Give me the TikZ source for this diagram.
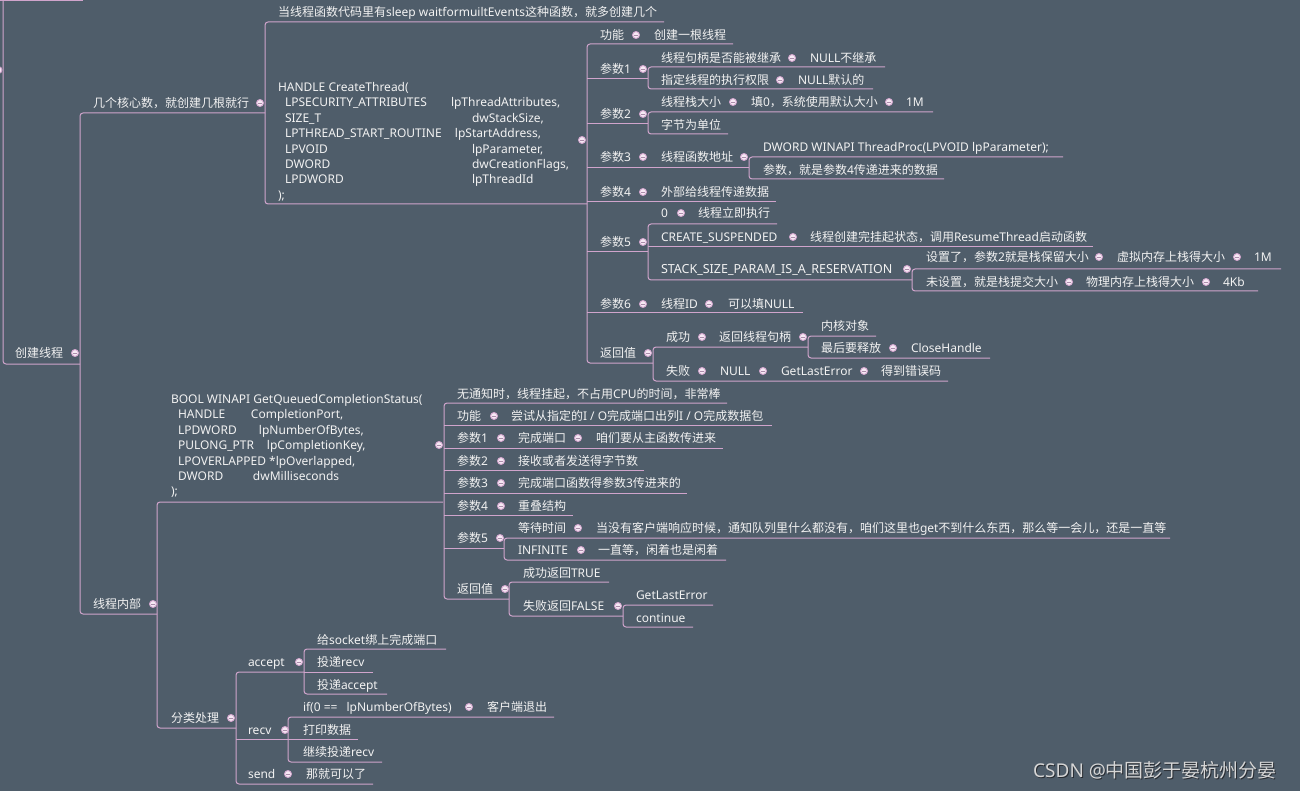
\documentclass[tikz,border=0pt]{standalone}
\usepackage{fontspec}
\setmainfont{Noto Sans}
\newfontfamily\cjkf{Noto Sans CJK SC}
\newfontfamily\latf{Noto Sans}
\XeTeXinterchartokenstate=1
\newXeTeXintercharclass\cjkclass
\makeatletter
\count@="3000
\loop \XeTeXcharclass\count@=\cjkclass \ifnum\count@<"9FFF \advance\count@ by 1 \repeat
\count@="FF00
\loop \XeTeXcharclass\count@=\cjkclass \ifnum\count@<"FFEF \advance\count@ by 1 \repeat
\makeatother
\XeTeXinterchartoks 0 \cjkclass = {\cjkf}
\XeTeXinterchartoks 4095 \cjkclass = {\cjkf}
\XeTeXinterchartoks \cjkclass 0 = {\latf}
\definecolor{bgc}{RGB}{79,93,106}
\definecolor{lnc}{RGB}{208,164,204}
\definecolor{txtc}{RGB}{242,242,242}
\definecolor{dotc}{RGB}{246,232,244}
\definecolor{minc}{RGB}{170,140,170}
\definecolor{wmc}{RGB}{214,214,214}
\definecolor{wms}{RGB}{40,44,50}
\tikzset{
  ln/.style={draw=lnc,line width=1pt},
  tx/.style={anchor=base west,inner sep=0pt,outer sep=0pt,text=txtc,font=\fontsize{12}{15.4}\selectfont},
  dotn/.style={circle,draw=lnc,fill=dotc,line width=0.9pt,inner sep=0pt,minimum size=7pt,
    path picture={\draw[minc,line width=0.7pt] ([xshift=-1.7pt]path picture bounding box.center) -- ([xshift=1.7pt]path picture bounding box.center);}},
}
\newcommand\mmT[4]{\node[tx] (#1) at (#2,#3+4.5) {#4};}
\newcommand\mmD[3]{\node[dotn] (#1) at (#2,#3) {};}
\newcommand\mmU[3]{\draw[ln] (#1,#3) -- (#2,#3);}
\newcommand\mmB[5]{\draw[ln,rounded corners=3pt] (#3,#2) -- (#1,#2) -- (#1,#4) -- (#5,#4);}
\begin{document}
\begin{tikzpicture}[x=1pt,y=-1pt]
\fill[bgc] (0,0) rectangle (1300,791);
\useasboundingbox (0,0) rectangle (1300,791);
% ---------- outer frame ----------
\draw[ln] (0,0.5) -- (83,0.5);
\draw[ln,rounded corners=3pt] (3,0) -- (3,364) -- (80,364);
\mmD{offd}{-1.5}{70}
\mmT{root}{15}{353}{创建线程} \mmD{rootd}{75}{353}
% ---------- level 1 ----------
\mmB{80}{113}{265}{614}{157}
\mmT{core}{93}{103}{几个核心数，就创建几根就行} \mmD{cored}{260}{103}
\mmT{inner}{93}{604}{线程内部} \mmD{innerd}{153}{604}
% ---------- core branch ----------
\mmB{265}{22}{664}{204}{587}
\mmT{sleep}{278}{12}{当线程函数代码里有sleep waitformuiltEvents这种函数，就多创建几个}
\node[tx] (ct) at (278,87+4.5) {\begin{tabular}[t]{@{}l@{}}
HANDLE CreateThread(\\
\hspace*{7pt}\makebox[166pt][l]{LPSECURITY\_ATTRIBUTES}lpThreadAttributes,\\
\hspace*{7pt}\makebox[187pt][l]{SIZE\_T}dwStackSize,\\
\hspace*{7pt}\makebox[170pt][l]{LPTHREAD\_START\_ROUTINE}lpStartAddress,\\
\hspace*{7pt}\makebox[187pt][l]{LPVOID}lpParameter,\\
\hspace*{7pt}\makebox[187pt][l]{DWORD}dwCreationFlags,\\
\hspace*{7pt}\makebox[187pt][l]{LPDWORD}lpThreadId\\
);
\end{tabular}};
\mmD{ctd}{582}{140}
% CreateThread children
\mmB{587}{44}{733}{363}{653}
\mmU{587}{648}{79} \mmU{587}{648}{124} \mmU{587}{749}{168} \mmU{587}{776}{202}
\mmU{587}{648}{252} \mmU{587}{803}{313}
\mmT{gn}{600}{35}{功能} \mmD{gnd}{636}{35} \mmT{gnv}{654}{35}{创建一根线程}
% p1
\mmT{pa}{600}{69}{参数1} \mmD{pad}{643}{69}
\mmB{648}{67}{885}{89}{873}
\mmT{paa}{661}{58}{线程句柄是否能被继承} \mmD{paad}{792}{58} \mmT{paav}{810}{58}{NULL不继承}
\mmT{pab}{661}{80}{指定线程的执行权限} \mmD{pabd}{780}{80} \mmT{pabv}{798}{80}{NULL默认的}
% p2
\mmT{pb}{600}{114}{参数2} \mmD{pbd}{643}{114}
\mmB{648}{112}{933}{134}{728}
\mmT{pba}{661}{102}{线程栈大小} \mmD{pbad}{733}{102} \mmT{pbav}{751}{102}{填0，系统使用默认大小} \mmD{pbavd}{889}{102} \mmT{pbaw}{906}{102}{1M}
\mmT{pbb}{661}{125}{字节为单位}
% p3
\mmT{pc}{600}{157}{参数3} \mmD{pcd}{643}{157} \mmT{pcv}{661}{157}{线程函数地址} \mmD{pcvd}{744}{157}
\mmB{749}{157}{1063}{179}{944}
\mmT{pca}{763}{147}{DWORD WINAPI ThreadProc(LPVOID lpParameter);}
\mmT{pcb}{763}{170}{参数，就是参数4传递进来的数据}
% p4
\mmT{pd}{600}{192}{参数4} \mmD{pdd}{643}{192} \mmT{pdv}{661}{192}{外部给线程传递数据}
% p5
\mmT{pe}{600}{242}{参数5} \mmD{ped}{643}{242}
\mmB{648}{224}{777}{280}{912}
\mmU{648}{1093}{247}
\mmT{pea}{661}{213}{0} \mmD{pead}{681}{213} \mmT{peav}{698}{213}{线程立即执行}
\mmT{peb}{661}{237}{CREATE\_SUSPENDED} \mmD{pebd}{793}{237} \mmT{pebv}{810}{237}{线程创建完挂起状态，调用ResumeThread启动函数}
\mmT{pec}{661}{269}{\fontsize{12.5}{15.4}\selectfont STACK\_SIZE\_PARAM\_IS\_A\_RESERVATION} \mmD{pecd}{907}{269}
\mmB{912}{269}{1281}{291}{1258}
\mmT{peca}{926}{257}{设置了，参数2就是栈保留大小} \mmD{pecad}{1099}{257} \mmT{pecav}{1117}{257}{虚拟内存上栈得大小} \mmD{pecavd}{1237}{257} \mmT{pecaw}{1254}{257}{1M}
\mmT{pecb}{926}{282}{未设置，就是栈提交大小} \mmD{pecbd}{1069}{282} \mmT{pecbv}{1086}{282}{物理内存上栈得大小} \mmD{pecbvd}{1206}{282} \mmT{pecbw}{1223}{282}{4Kb}
% p6
\mmT{pf}{600}{304}{参数6} \mmD{pfd}{643}{304} \mmT{pfv}{661}{304}{线程ID} \mmD{pfvd}{709}{304} \mmT{pfw}{728}{304}{可以填NULL}
% return
\mmT{rv}{600}{353}{返回值} \mmD{rvd}{648}{353}
\mmB{653}{347}{808}{381}{948}
\mmT{rva}{666}{337}{成功} \mmD{rvad}{702}{337} \mmT{rvav}{719}{337}{返回线程句柄} \mmD{rvavd}{803}{337}
\mmB{808}{336}{876}{358}{990}
\mmT{rvaa}{821}{326}{内核对象}
\mmT{rvab}{821}{348}{最后要释放} \mmD{rvabd}{893}{348} \mmT{rvabv}{911}{348}{CloseHandle}
\mmT{rvb}{666}{371}{失败} \mmD{rvbd}{702}{371} \mmT{rvbv}{720}{371}{NULL} \mmD{rvbvd}{763}{371} \mmT{rvbw}{781}{371}{GetLastError} \mmD{rvbwd}{864}{371} \mmT{rvbx}{881}{371}{得到错误码}
% ---------- inner branch ----------
\mmB{157}{502}{443}{728}{236}
\node[tx] (gq) at (171,399+4.5) {\begin{tabular}[t]{@{}l@{}}
BOOL WINAPI GetQueuedCompletionStatus(\\
\hspace*{7pt}\makebox[73pt][l]{HANDLE}CompletionPort,\\
\hspace*{7pt}\makebox[81pt][l]{LPDWORD}lpNumberOfBytes,\\
\hspace*{7pt}\makebox[89pt][l]{PULONG\_PTR}lpCompletionKey,\\
\hspace*{7pt}LPOVERLAPPED *lpOverlapped,\\
\hspace*{7pt}\makebox[75pt][l]{DWORD}dwMilliseconds\\
);
\end{tabular}};
\mmD{gqd}{439}{445}
\mmB{444}{403}{727}{599}{509}
\mmU{444}{772}{425} \mmU{444}{723}{448} \mmU{444}{644}{470} \mmU{444}{687}{493} \mmU{444}{573}{515} \mmU{444}{504}{548}
\mmT{ga}{457}{394}{无通知时，线程挂起，不占用CPU的时间，非常棒}
\mmT{gb}{457}{416}{功能} \mmD{gbd}{494}{416} \mmT{gbv}{511}{416}{尝试从指定的I / O完成端口出列I / O完成数据包}
\mmT{gc}{457}{438}{参数1} \mmD{gcd}{501}{438} \mmT{gcv}{518}{438}{完成端口} \mmD{gcvd}{578}{438} \mmT{gcw}{596}{438}{咱们要从主函数传进来}
\mmT{gd}{457}{461}{参数2} \mmD{gdd}{501}{461} \mmT{gdv}{518}{461}{接收或者发送得字节数}
\mmT{ge}{457}{483}{参数3} \mmD{ged}{501}{483} \mmT{gev}{518}{483}{完成端口函数得参数3传进来的}
\mmT{gf}{457}{506}{参数4} \mmD{gfd}{501}{506} \mmT{gfv}{518}{506}{重叠结构}
\mmT{gg}{457}{538}{参数5} \mmD{ggd}{500}{538}
\mmB{504}{538}{1170}{560}{726}
\mmT{gga}{518}{528}{等待时间} \mmD{ggad}{578}{528} \mmT{ggav}{596}{528}{当没有客户端响应时候，通知队列里什么都没有，咱们这里也get不到什么东西，那么等一会儿，还是一直等}
\mmT{ggb}{518}{550}{INFINITE} \mmD{ggbd}{581}{550} \mmT{ggbv}{598}{550}{一直等，闲着也是闲着}
\mmT{gh}{457}{589}{返回值} \mmD{ghd}{505}{589}
\mmB{509}{582}{609}{616}{623}
\mmT{gha}{523}{573}{成功返回TRUE}
\mmT{ghb}{523}{606}{失败返回FALSE} \mmD{ghbd}{618}{606}
\mmB{623}{605}{713}{627}{693}
\mmT{ghba}{636}{595}{GetLastError}
\mmT{ghbb}{636}{618}{continue}
% ---------- classify ----------
\mmT{cl}{171}{718}{分类处理} \mmD{cld}{231}{718}
\mmB{236}{672}{304}{784}{373}
\mmU{236}{288}{739}
\mmT{ac}{248}{662}{accept} \mmD{acd}{299}{662}
\mmB{304}{649}{446}{694}{387}
\mmU{304}{373}{672}
\mmT{aca}{317}{640}{给socket绑上完成端口}
\mmT{acb}{317}{662}{投递recv}
\mmT{acc}{317}{685}{投递accept}
\mmT{rc}{248}{730}{recv} \mmD{rcd}{285}{730}
\mmB{288}{717}{554}{762}{382}
\mmU{288}{358}{739}
\mmT{rca}{303}{707}{if(0 ==\hspace{9pt}lpNumberOfBytes)} \mmD{rcad}{469}{707} \mmT{rcav}{487}{707}{客户端退出}
\mmT{rcb}{303}{730}{打印数据}
\mmT{rcc}{303}{752}{继续投递recv}
\mmT{sd}{248}{774}{send} \mmD{sdd}{288}{774} \mmT{sdv}{306}{774}{那就可以了}
% ---------- watermark ----------
\node[anchor=base west,inner sep=0pt,text=wms,font=\fontsize{19}{19}\selectfont] (wmsh) at (1034,777+1) {CSDN @中国彭于晏杭州分晏};
\node[anchor=base west,inner sep=0pt,text=wmc,font=\fontsize{19}{19}\selectfont] (wm) at (1033,777) {CSDN @中国彭于晏杭州分晏};
\end{tikzpicture}
\end{document}
